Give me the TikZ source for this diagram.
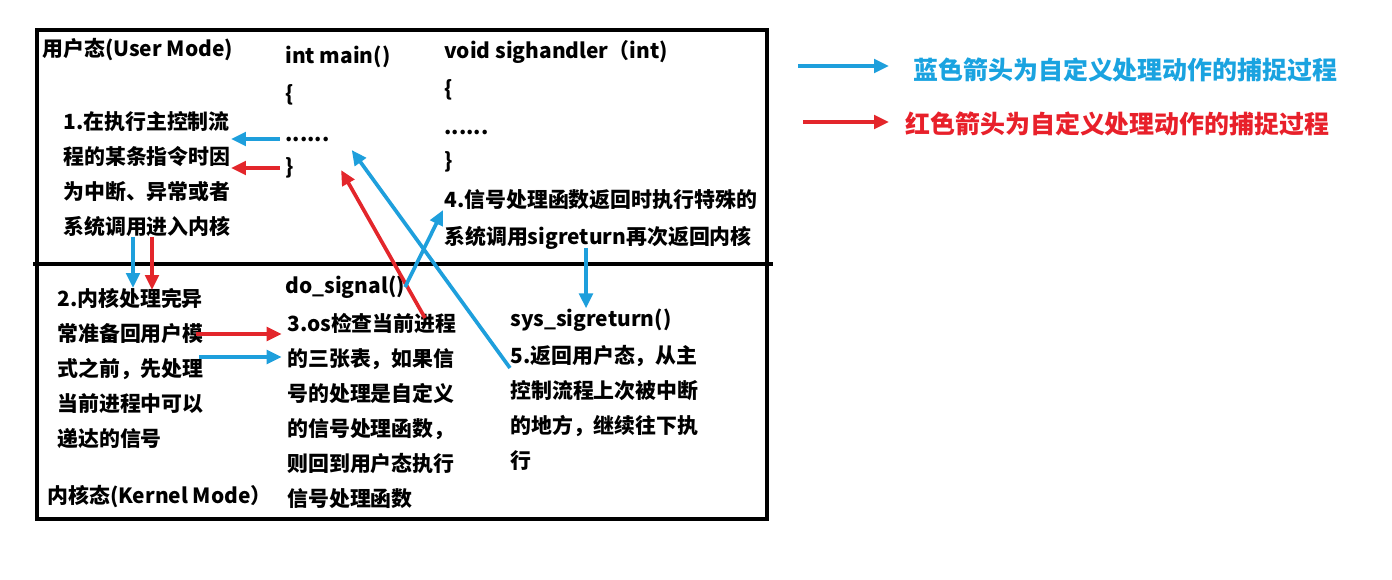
\documentclass[tikz,border=0pt]{standalone}
\usepackage{fontspec}
\setmainfont{Noto Sans CJK SC}
\usetikzlibrary{arrows.meta,calc}
\definecolor{sigblue}{HTML}{1E9FDC}
\definecolor{sigred}{HTML}{E3262B}
\definecolor{legblue}{HTML}{1AA3E0}
\definecolor{legred}{HTML}{E8202A}

\begin{document}
\begin{tikzpicture}[x=0.02cm,y=-0.02cm,
  txt/.style={anchor=north west,inner sep=0pt,align=left,
    font=\bfseries\fontsize{11.9}{19.9}\selectfont},
  code/.style={anchor=west,inner sep=0pt,font=\bfseries\fontsize{11.9}{14}\selectfont},
  leg/.style={anchor=west,inner sep=0pt,font=\bfseries\fontsize{14.2}{17}\selectfont},
  barr/.style={-{Triangle[length=0.3cm,width=0.27cm]},line width=2.1pt,color=sigblue},
  rarr/.style={barr,color=sigred},
]
  \useasboundingbox (0,0) rectangle (1392,579);
  % user / kernel frame
  \draw[line width=2.8pt] (37,30) rectangle (767,519);
  \draw[line width=2.8pt] (33,264) -- (773,264);

  % user mode
  \node[code] (um) at (42,50) {用户态(User Mode)};
  \node[code] (mn) at (285,57) {int main()};
  \node[code] (mo) at (285,95) {\{};
  \node[code] (md) at (285,139) {......};
  \node[code] (mc) at (285,168) {\}};
  \node[code] (sh) at (444,52) {void sighandler（int)};
  \node[code] (so) at (444,90) {\{};
  \node[code] (sd) at (444,132) {......};
  \node[code] (sc) at (444,162) {\}};
  \node[txt] (st1) at (63,111) {1.在执行主控制流\\程的某条指令时因\\为中断、异常或者\\系统调用进入内核};
  \node[txt,font=\bfseries\fontsize{11.9}{21}\selectfont] (st4) at (444,189)
    {4.信号处理函数返回时执行特殊的\\系统调用sigreturn再次返回内核};

  % kernel mode
  \node[txt] (st2) at (57,288) {2.内核处理完异\\常准备回用户模\\式之前，先处理\\当前进程中可以\\递达的信号};
  \node[code] (ds) at (285,287) {do\_signal()};
  \node[txt] (st3) at (287,313) {3.os检查当前进程\\的三张表，如果信\\号的处理是自定义\\的信号处理函数，\\则回到用户态执行\\信号处理函数};
  \node[code] (ss) at (510,320) {sys\_sigreturn()};
  \node[txt] (st5) at (510,345) {5.返回用户态，从主\\控制流程上次被中断\\的地方，继续往下执\\行};
  \node[code] (km) at (47,497) {内核态(Kernel Mode）};

  % legend
  \node[leg,text=legblue] (lb) at (913,70) {蓝色箭头为自定义处理动作的捕捉过程};
  \node[leg,text=legred] (lr) at (905,124) {红色箭头为自定义处理动作的捕捉过程};

  \coordinate (d1) at ($(st1.south west)+(70,0)$);
  \coordinate (d2) at ($(st1.south west)+(89,0)$);
  \coordinate (r3) at ($(st2.north east)+(-8,46)$);
  \coordinate (b3) at ($(st2.north east)+(-5,69)$);
  \coordinate (d4) at ($(st4.south west)+(142,-2)$);
  \coordinate (lbs) at (798,66);
  \coordinate (lrs) at (803,122);

  \draw[barr] ([xshift=-3pt]md.west) -- (md.west -| st1.east);
  \draw[rarr] ([xshift=-3pt]mc.west) -- (mc.west -| st1.east);
  \draw[barr] (d1) -- (d1 |- st2.north);
  \draw[rarr] (d2) -- ($(d2 |- st2.north)+(0,2)$);
  \draw[rarr,shorten >=3pt] (r3) -- (r3 -| st3.west);
  \draw[barr,shorten >=3pt] (b3) -- (b3 -| st3.west);
  \draw[rarr] ($(st3.north west)+(138,5)$) -- ($(mc.east)+(47,2)$);
  \draw[barr] ($(st5.north west)+(0,23)$) -- ($(md.east)+(22,11)$);
  \draw[barr] (ds.east) -- ($(st4.north west)+(-1,21)$);
  \draw[barr] (d4) -- (d4 |- ss.north);
  \draw[barr] (lbs) -- ($(lb.west)+(-24,-4)$);
  \draw[rarr] (lrs) -- ($(lr.west)+(-16,-2)$);
\end{tikzpicture}
\end{document}
